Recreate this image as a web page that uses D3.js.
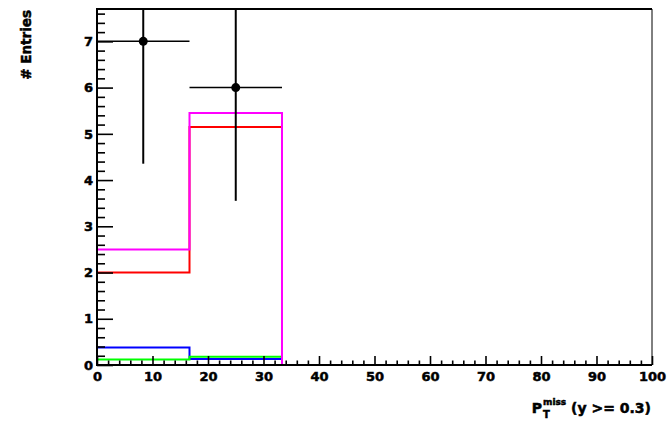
<!DOCTYPE html>
<html>
<head>
<meta charset="utf-8">
<script src="https://cdn.jsdelivr.net/npm/d3@7"></script>
<style>
  html, body { margin: 0; padding: 0; background: #fff; }
  svg { display: block; }
  text { font-family: "DejaVu Sans", "Liberation Sans", sans-serif; font-weight: bold; fill: #000; stroke: #000; stroke-width: 0.5px; }
</style>
</head>
<body>
<svg id="chart" width="668" height="431"></svg>
<script>
// ---- data ----
const binEdges = [0, 16.667, 33.333];
const seriesNames = ["red", "blue", "green", "total"];
const redValues = [2.0, 5.15];
const blueValues = [0.38, 0.13];
const greenValues = [0.12, 0.18];
const totalValues = [2.5, 5.45];
const dataX = [8.333, 25.0];
const dataXErr = [8.333, 8.333];
const dataY = [7, 6];
const dataYErr = [2.646, 2.449];
const xTicks = [0, 10, 20, 30, 40, 50, 60, 70, 80, 90, 100];
const yTicks = [0, 1, 2, 3, 4, 5, 6, 7];
const xTitleMain = "P";
const xTitleSub = "T";
const xTitleSup = "miss";
const xTitleRest = " (y >= 0.3)";
const yTitle = "# Entries";

// ---- layout ----
const L = 97, R = 652, T = 9, B = 365;
const svg = d3.select("#chart");
const x = d3.scaleLinear().domain([0, 100]).range([L, R]);
const y = d3.scaleLinear().domain([0, 7.7]).range([B, T]);

svg.append("defs").append("clipPath").attr("id", "clip")
  .append("rect").attr("x", L).attr("y", T).attr("width", R - L).attr("height", B - T);
const plot = svg.append("g").attr("clip-path", "url(#clip)");

// ---- histograms (step outlines) ----
function stepPoints(vals) {
  const pts = [[binEdges[0], 0]];
  vals.forEach((v, i) => { pts.push([binEdges[i], v]); pts.push([binEdges[i + 1], v]); });
  pts.push([binEdges[binEdges.length - 1], 0]);
  return pts;
}
const line = d3.line().x(d => x(d[0])).y(d => y(d[1]));
const hists = [
  { vals: redValues, color: "#ff0000" },
  { vals: blueValues, color: "#0000ff" },
  { vals: greenValues, color: "#00ff00" },
  { vals: totalValues, color: "#ff00ff" }
];
hists.forEach(h => {
  plot.append("path").attr("d", line(stepPoints(h.vals)))
    .attr("fill", "none").attr("stroke", h.color).attr("stroke-width", 2);
});

// ---- data points with error bars ----
dataX.forEach((xv, i) => {
  plot.append("line")
    .attr("x1", x(xv - dataXErr[i])).attr("x2", x(xv + dataXErr[i]))
    .attr("y1", y(dataY[i])).attr("y2", y(dataY[i]))
    .attr("stroke", "#000").attr("stroke-width", 1.5);
  plot.append("line")
    .attr("x1", x(xv)).attr("x2", x(xv))
    .attr("y1", y(dataY[i] - dataYErr[i])).attr("y2", y(dataY[i] + dataYErr[i]))
    .attr("stroke", "#000").attr("stroke-width", 2);
  plot.append("circle").attr("cx", x(xv)).attr("cy", y(dataY[i])).attr("r", 4.5).attr("fill", "#000");
});

// ---- axes ----
const yMinor = d3.range(0, 7.7, 0.2).filter(v => Math.abs(v - Math.round(v)) > 1e-6);
const xMinor = d3.range(0, 100.001, 2).filter(v => v % 10 !== 0);

const yAxisG = svg.append("g").attr("transform", `translate(${L},0)`)
  .call(d3.axisLeft(y).tickValues(yTicks).tickSize(-16).tickPadding(4).tickFormat(d3.format("d")));
const yMinorG = svg.append("g").attr("transform", `translate(${L},0)`)
  .call(d3.axisLeft(y).tickValues(yMinor).tickSize(-8).tickFormat(""));
const xAxisG = svg.append("g").attr("transform", `translate(0,${B})`)
  .call(d3.axisBottom(x).tickValues(xTicks).tickSize(-9).tickPadding(7).tickFormat(d3.format("d")));
const xMinorG = svg.append("g").attr("transform", `translate(0,${B})`)
  .call(d3.axisBottom(x).tickValues(xMinor).tickSize(-4.5).tickFormat(""));

[yAxisG, yMinorG, xAxisG, xMinorG].forEach(g => {
  g.select(".domain").remove();
  g.selectAll(".tick line").attr("stroke", "#000").attr("stroke-width", 1.6);
  g.selectAll("text").attr("font-size", 13).attr("font-family", null).attr("fill", "#000");
});

// frame
svg.append("line").attr("x1", L).attr("x2", R).attr("y1", T).attr("y2", T).attr("stroke", "#000").attr("stroke-width", 2);
svg.append("line").attr("x1", R).attr("x2", R).attr("y1", T).attr("y2", B).attr("stroke", "#000").attr("stroke-width", 1);
svg.append("line").attr("x1", L).attr("x2", L).attr("y1", T - 1).attr("y2", B + 1).attr("stroke", "#000").attr("stroke-width", 2);
svg.append("line").attr("x1", L).attr("x2", R).attr("y1", B).attr("y2", B).attr("stroke", "#000").attr("stroke-width", 2);

// ---- titles ----
const yt = svg.append("text").attr("transform", "translate(31,10) rotate(-90)")
  .attr("text-anchor", "end").attr("font-size", 13.5).text(yTitle);

const xt = svg.append("g");
const base = 413;
const tMain = xt.append("text").attr("x", 0).attr("y", base).attr("font-size", 14).text(xTitleMain);
const pw = tMain.node().getComputedTextLength();
const tSub = xt.append("text").attr("x", pw + 1).attr("y", base + 5).attr("font-size", 10).text(xTitleSub);
const tSup = xt.append("text").attr("x", pw + 1).attr("y", base - 8).attr("font-size", 9).text(xTitleSup);
const supw = Math.max(tSub.node().getComputedTextLength(), tSup.node().getComputedTextLength());
const tRest = xt.append("text").attr("x", pw + 1 + supw).attr("y", base).attr("font-size", 14)
  .attr("xml:space", "preserve").style("white-space", "pre").text(xTitleRest);
const totalW = pw + 1 + supw + tRest.node().getComputedTextLength();
xt.attr("transform", `translate(${651 - totalW},0)`);
</script>
</body>
</html>
